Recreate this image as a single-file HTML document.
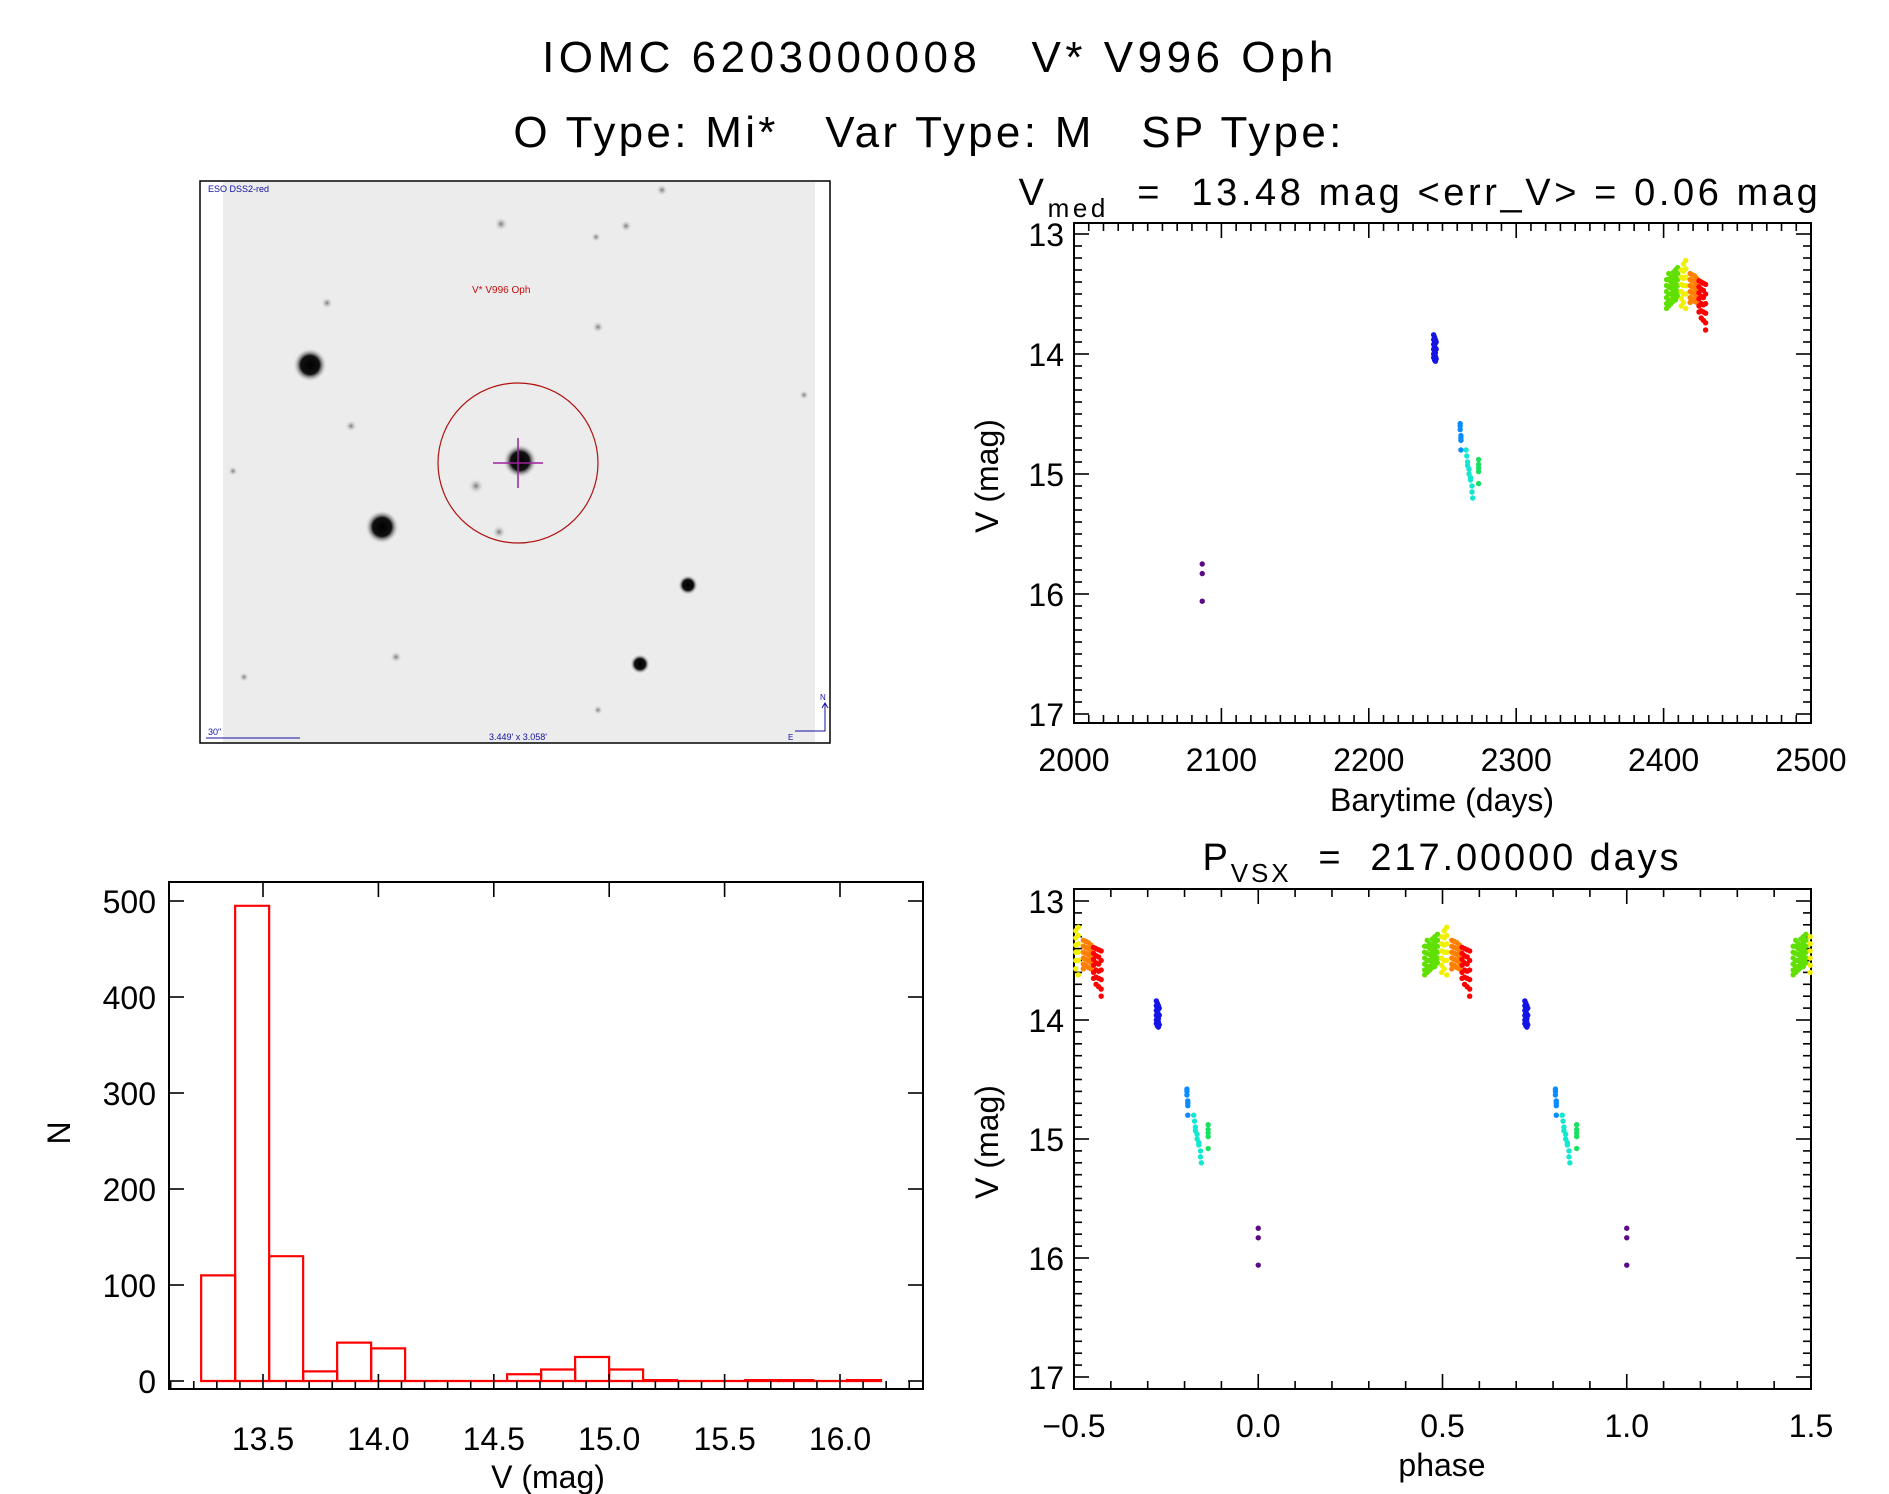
<!DOCTYPE html>
<html><head><meta charset="utf-8"><title>IOMC 6203000008 V* V996 Oph</title>
<style>
html,body{margin:0;padding:0;background:#fff;}
svg{display:block;font-family:"Liberation Sans",sans-serif;}
</style></head>
<body>
<svg id="fig" width="1889" height="1494" viewBox="0 0 1889 1494" xmlns="http://www.w3.org/2000/svg">
<defs>
<radialGradient id="star"><stop offset="0" stop-color="#000"/><stop offset="0.55" stop-color="#111"/><stop offset="1" stop-color="#ececec" stop-opacity="0"/></radialGradient>
<radialGradient id="faint"><stop offset="0" stop-color="#777"/><stop offset="1" stop-color="#ececec" stop-opacity="0"/></radialGradient>
</defs>
<text x="940" y="72" font-size="44" letter-spacing="4.5" text-anchor="middle" xml:space="preserve">IOMC 6203000008   V* V996 Oph</text>
<text x="929" y="147" font-size="44" letter-spacing="3.3" text-anchor="middle" xml:space="preserve">O Type: Mi*   Var Type: M   SP Type:</text>
<text x="1420" y="205" font-size="38" letter-spacing="3.6" text-anchor="middle" xml:space="preserve">V<tspan font-size="26" dy="12">med</tspan><tspan dy="-12">  =  13.48 mag &lt;err_V&gt; = 0.06 mag</tspan></text>
<text x="1442" y="870" font-size="38" letter-spacing="2.9" text-anchor="middle" xml:space="preserve">P<tspan font-size="26" dy="12">VSX</tspan><tspan dy="-12">  =  217.00000 days</tspan></text>

<g id="sky">
<rect x="200" y="181" width="630" height="562" fill="#fff" stroke="#000" stroke-width="1.5"/>
<rect x="223" y="182" width="592" height="560" fill="#ececec"/>
<g id="stars"></g>
<circle cx="518" cy="463" r="80" fill="none" stroke="#b01010" stroke-width="1.2"/>
<line x1="493" y1="463" x2="543" y2="463" stroke="#a020a0" stroke-width="1.5"/>
<line x1="518" y1="438" x2="518" y2="488" stroke="#a020a0" stroke-width="1.5"/>
<text x="208" y="192" font-size="9" fill="#1010a0">ESO DSS2-red</text>
<text x="472" y="293" font-size="10" fill="#c01010">V* V996 Oph</text>
<text x="208" y="735" font-size="9" fill="#1010a0">30"</text>
<line x1="206" y1="738" x2="300" y2="738" stroke="#1010a0" stroke-width="1"/>
<text x="518" y="740" font-size="9" fill="#1010a0" text-anchor="middle">3.449' x 3.058'</text>
<path d="M825 703 V731 H795 M822 708 L825 703 L828 708" fill="none" stroke="#1010a0" stroke-width="1"/>
<text x="820" y="700" font-size="8" fill="#1010a0">N</text>
<text x="788" y="740" font-size="8" fill="#1010a0">E</text>
</g>

<g id="lc"></g>
<g id="ph"></g>
<g id="hist"></g>
</svg>
<script>
// ---------- data ----------
const groupColors = ["#5a0a86","#1414e6","#0a8cff","#12e8d0","#18e060","#60e000","#f0f000","#ff8000","#ff0000"];
const purpleT = [2087,2087,2087];
const purpleM = [15.75,15.83,16.06];
const blueT = [2244,2244,2244,2244,2244,2244,2244.6,2244.6,2244.6,2244.6,2244.6,2244.6,2245.2,2245.2,2245.2,2245.2,2245.2,2245.2,2245.7,2245.7,2245.7];
const blueM = [13.84,13.88,13.92,13.96,14.0,14.03,13.86,13.9,13.94,13.98,14.02,14.05,13.88,13.91,13.95,13.99,14.02,14.06,13.9,13.96,14.04];
const skyT = [2262,2262,2262,2262.5,2262.5,2262.5,2262.5];
const skyM = [14.58,14.6,14.63,14.68,14.7,14.72,14.8];
const cyanT = [2266,2266.5,2267,2267,2268,2268,2269,2269,2270,2270,2270.5];
const cyanM = [14.8,14.85,14.9,14.93,14.96,15.0,15.03,15.05,15.1,15.15,15.2];
const greenT = [2274.5,2274.5,2274.5,2274.5,2274.5];
const greenM = [14.88,14.92,14.95,14.98,15.08];
const limeT = [2402,2402,2402,2402,2402,2402,2403.5,2403.5,2403.5,2403.5,2403.5,2403.5,2405,2405,2405,2405,2405,2405,2406.5,2406.5,2406.5,2406.5,2406.5,2406.5,2408,2408,2408,2408,2408,2408,2409.5,2409.5,2409.5,2409.5,2409.5,2409.5];
const limeM = [13.38,13.43,13.48,13.53,13.58,13.62,13.33,13.38,13.44,13.5,13.55,13.6,13.36,13.4,13.45,13.5,13.55,13.58,13.32,13.37,13.42,13.47,13.52,13.56,13.3,13.35,13.4,13.45,13.5,13.55,13.28,13.33,13.38,13.43,13.48,13.52];
const yellowT = [2412,2412,2412,2412,2412,2412,2413.5,2413.5,2413.5,2413.5,2413.5,2413.5,2415,2415,2415,2415,2415,2415];
const yellowM = [13.3,13.36,13.42,13.48,13.54,13.6,13.25,13.31,13.37,13.43,13.5,13.57,13.22,13.29,13.36,13.43,13.5,13.62];
const orangeT = [2418,2418,2418,2418,2418,2418,2419.5,2419.5,2419.5,2419.5,2419.5,2421,2421,2421,2421,2421,2422.5,2422.5,2422.5,2422.5,2422.5];
const orangeM = [13.33,13.38,13.43,13.48,13.53,13.57,13.34,13.39,13.44,13.49,13.54,13.35,13.4,13.45,13.5,13.56,13.37,13.42,13.47,13.52,13.57];
const redT = [2424,2424,2424,2424,2424,2424,2425.5,2425.5,2425.5,2425.5,2425.5,2425.5,2427,2427,2427,2427,2427,2427,2428.5,2428.5,2428.5,2428.5,2428.5,2428.5];
const redM = [13.39,13.44,13.49,13.54,13.6,13.65,13.4,13.46,13.52,13.58,13.64,13.7,13.41,13.47,13.53,13.59,13.65,13.72,13.42,13.5,13.58,13.66,13.74,13.8];
const period = 217.0;
const epoch = 2087;
const lcXTicks = ["2000","2100","2200","2300","2400","2500"];
const magTicks = ["13","14","15","16","17"];
const phXTicks = ["\u22120.5","0.0","0.5","1.0","1.5"];
const histCounts = [110,495,130,10,40,34,0,0,0,7,12,25,12,1,0,0,1,1,0,1];
const histStart = 13.232;
const histWidth = 0.1473;
const histXTicks = ["13.5","14.0","14.5","15.0","15.5","16.0"];
const histYTicks = ["0","100","200","300","400","500"];

const groupsT = [purpleT,blueT,skyT,cyanT,greenT,limeT,yellowT,orangeT,redT];
const groupsM = [purpleM,blueM,skyM,cyanM,greenM,limeM,yellowM,orangeM,redM];

const NS = "http://www.w3.org/2000/svg";
function mk(parent, tag, attrs){ const e=document.createElementNS(NS,tag); for(const k in attrs) e.setAttribute(k,attrs[k]); parent.appendChild(e); return e; }
function txt(parent,x,y,s,size,anchor){ const e=mk(parent,"text",{x:x,y:y,"font-size":size,"text-anchor":anchor}); e.textContent=s; return e; }

// ---------- stars ----------
const starX = [310,382,520,476,499,688,640,501,662,626,596,327,598,351,804,396,244,598,233];
const starY = [365,527,461,486,532,585,664,224,190,226,237,303,327,426,395,657,677,710,471];
const starR = [17,17,17,8,7,10,10,7,6,6,5,6,6,6,5,6,5,5,5];
const stG = document.getElementById("stars");
starX.forEach((x,i)=>{
  const c = mk(stG,"circle",{cx:x,cy:starY[i],r:starR[i],fill:starR[i]>9?"url(#star)":"url(#faint)"});
  
  
});

// ---------- axes helper ----------
function frame(g,L,R,T,B){
  const r = mk(g,"rect",{x:L,y:T,width:R-L,height:B-T,fill:"none",stroke:"#000","stroke-width":2});
  
  
}
function tick(g,x1,y1,x2,y2){ mk(g,"line",{x1:x1,y1:y1,x2:x2,y2:y2,stroke:"#000","stroke-width":1.6}); }

// ---------- light curve ----------
const lc = document.getElementById("lc");
const LCL=1074, LCR=1811, LCT=223, LCB=723;
const lcX = t => LCL + (t-2000)/500*(LCR-LCL);
const magY = (m,top13,bot17) => top13 + (m-13)/4*(bot17-top13);
const lcY = m => magY(m,234,714);
frame(lc,LCL,LCR,LCT,LCB);
for(let t=2000;t<=2500;t+=10){ const x=lcX(t), L=(t%100===0)?15:8; tick(lc,x,LCB,x,LCB-L); tick(lc,x,LCT,x,LCT+L); }
for(let k=0;k<=40;k++){ const m=13+k*0.1; const y=lcY(m); if(y<LCT||y>LCB) continue; const L=(k%10===0)?15:8; tick(lc,LCL,y,LCL+L,y); tick(lc,LCR,y,LCR-L,y); }
lcXTicks.forEach((s,i)=>{ const e=txt(lc,lcX(2000+i*100),771,s,32,"middle");   });
magTicks.forEach((s,i)=>{ const e=txt(lc,1064,lcY(13+i)+12,s,32,"end");   });
{ const e=txt(lc,1442,811,"Barytime (days)",32,"middle");   }
{ const e=txt(lc,0,0,"V (mag)",32,"middle"); e.setAttribute("transform","translate(998,476) rotate(-90)");   }
groupsT.forEach((ts,gi)=>{ ts.forEach((t,i)=>{
  const c=mk(lc,"circle",{cx:lcX(t),cy:lcY(groupsM[gi][i]),r:2.7,fill:groupColors[gi]});
  
  
});});

// ---------- phase plot ----------
const ph = document.getElementById("ph");
const PL=1074, PR=1811, PT=889, PB=1389;
const phX = p => PL + (p+0.5)/2*(PR-PL);
const phY = m => magY(m,901,1377);
frame(ph,PL,PR,PT,PB);
for(let k=0;k<=20;k++){ const x=phX(-0.5+k*0.1), L=(k%5===0)?15:8; tick(ph,x,PB,x,PB-L); tick(ph,x,PT,x,PT+L); }
for(let k=0;k<=40;k++){ const y=phY(13+k*0.1); if(y<PT||y>PB) continue; const L=(k%10===0)?15:8; tick(ph,PL,y,PL+L,y); tick(ph,PR,y,PR-L,y); }
phXTicks.forEach((s,i)=>{ const e=txt(ph,phX(-0.5+i*0.5),1437,s,32,"middle");   });
magTicks.forEach((s,i)=>{ const e=txt(ph,1064,phY(13+i)+12,s,32,"end");   });
{ const e=txt(ph,1442,1476,"phase",32,"middle");   }
{ const e=txt(ph,0,0,"V (mag)",32,"middle"); e.setAttribute("transform","translate(998,1142) rotate(-90)");   }
groupsT.forEach((ts,gi)=>{ ts.forEach((t,i)=>{
  let p=((t-epoch)/period)%1; if(p<0)p+=1;
  [p-1,p,p+1].forEach(q=>{ if(q<-0.5||q>1.5) return;
    const c=mk(ph,"circle",{cx:phX(q),cy:phY(groupsM[gi][i]),r:2.7,fill:groupColors[gi]});
    
    
  });
});});

// ---------- histogram ----------
const hg = document.getElementById("hist");
const HL=169, HR=923, HT=882, HB=1389;
const hX = v => 263 + (v-13.5)*230.8;
const hY = n => 1381 - n/500*(1381-901);
frame(hg,HL,HR,HT,HB);
histCounts.forEach((n,i)=>{
  const x0=hX(histStart+i*histWidth), x1=hX(histStart+(i+1)*histWidth), y0=hY(0), y1=hY(n);
  const p=mk(hg,"path",{d:`M${x0},${y0} V${y1} H${x1} V${y0} Z`,fill:"none",stroke:"#ff0000","stroke-width":2.2});
  
  
});
for(let k=0;k<=40;k++){ const v=13.1+k*0.1; const x=hX(v); if(x<HL||x>HR) continue; const major=Math.abs(v*2-Math.round(v*2))<1e-6; tick(hg,x,HB,x,HB-(major?15:8)); if(major) tick(hg,x,HT,x,HT+15); }
for(let n=0;n<=500;n+=100){ const y=hY(n); tick(hg,HL,y,HL+15,y); tick(hg,HR,y,HR-15,y); }
histXTicks.forEach((s,i)=>{ const e=txt(hg,hX(13.5+i*0.5),1450,s,32,"middle");   });
histYTicks.forEach((s,i)=>{ const e=txt(hg,156,hY(i*100)+12,s,32,"end");   });
{ const e=txt(hg,548,1488,"V (mag)",32,"middle");   }
{ const e=txt(hg,0,0,"N",32,"middle"); e.setAttribute("transform","translate(70,1133) rotate(-90)");   }
</script>
</body></html>
